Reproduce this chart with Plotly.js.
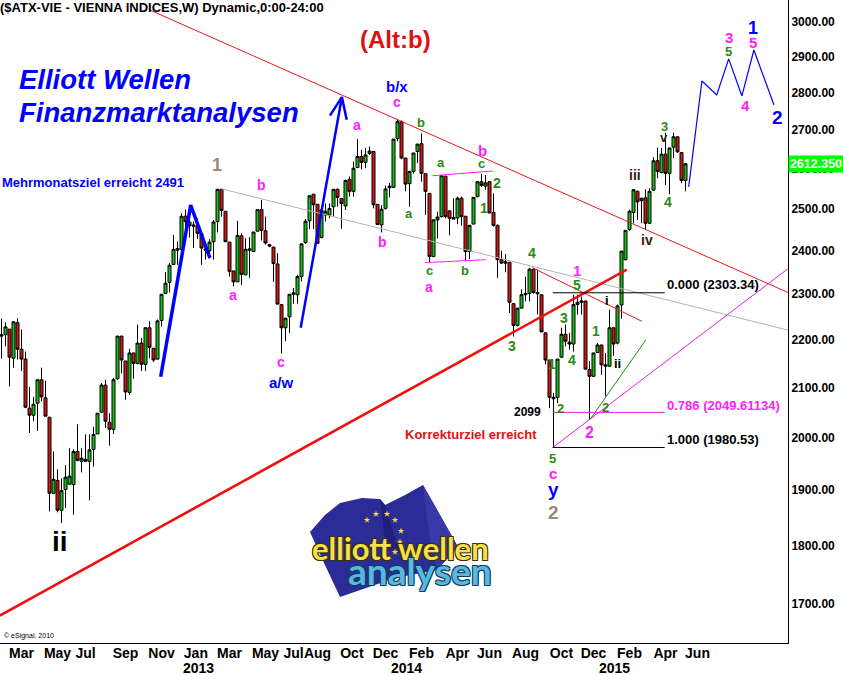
<!DOCTYPE html>
<html><head><meta charset="utf-8">
<script src="https://cdn.plot.ly/plotly-3.0.1.min.js"></script>
<style>html,body{margin:0;padding:0;background:#fff}#c{width:843px;height:675px}</style>
</head><body><div id="c"></div>
<script>
const opens=[2211,2211,2223,2161,2237,2180,2159,2058,2044,2068,
2116,2079,2040,1894,1918,1863,1901,1911,1910,1973,
1954,1958,1954,1977,2007,2050,2105,2030,2016,2118,
2208,2155,2090,2172,2150,2193,2148,2226,2182,2159,
2242,2302,2327,2368,2401,2403,2482,2468,2461,2459,
2440,2404,2400,2421,2469,2548,2494,2420,2353,2328,
2435,2344,2401,2398,2446,2498,2447,2414,2408,2369,
2277,2226,2250,2300,2299,2340,2419,2471,2536,2511,
2431,2485,2485,2505,2548,2525,2507,2573,2543,2603,
2631,2616,2639,2644,2511,2461,2501,2552,2553,2678,
2722,2627,2562,2593,2644,2664,2587,2538,2386,2473,
2481,2581,2495,2479,2478,2526,2482,2398,2463,2530,
2567,2556,2567,2491,2460,2379,2374,2373,2279,2231,
2269,2299,2302,2357,2304,2299,2215,2157,2080,2080,
2163,2212,2195,2191,2277,2282,2285,2137,2123,2173,
2189,2147,2144,2226,2193,2276,2379,2450,2491,2543,
2520,2527,2465,2546,2620,2590,2637,2588,2655,2682,2641,2570];
const highs=[2246,2238,2223,2239,2247,2222,2175,2101,2081,2116,
2141,2114,2040,1973,1939,1922,1947,1979,1977,2026,
1979,2006,2006,2021,2048,2109,2116,2048,2120,2208,
2208,2155,2181,2172,2233,2204,2226,2240,2182,2244,
2300,2350,2371,2437,2421,2489,2498,2489,2469,2477,
2441,2420,2427,2473,2548,2548,2494,2420,2353,2471,
2441,2429,2432,2444,2498,2522,2481,2416,2410,2394,
2277,2247,2300,2314,2344,2416,2475,2532,2536,2511,
2497,2513,2513,2548,2550,2525,2572,2580,2618,2676,
2648,2653,2657,2644,2511,2509,2557,2564,2676,2729,
2725,2627,2593,2640,2663,2691,2587,2538,2475,2493,
2584,2581,2495,2526,2530,2530,2482,2461,2528,2568,
2587,2584,2568,2538,2462,2400,2392,2373,2279,2269,
2311,2340,2360,2360,2356,2299,2216,2157,2089,2159,
2226,2233,2215,2299,2299,2295,2285,2155,2172,2193,
2189,2172,2266,2226,2277,2399,2448,2498,2548,2545,
2527,2548,2551,2629,2654,2653,2693,2653,2693,2682,2641,2614];
const lows=[2160,2186,2102,2141,2158,2134,2058,2009,2032,2013,
2072,2042,1861,1894,1859,1840,1867,1910,1855,1954,
1933,1954,1881,1944,2007,2048,2019,1984,2007,2116,
2129,2075,2085,2118,2148,2134,2134,2161,2153,2158,
2229,2301,2304,2367,2367,2379,2433,2431,2406,2427,
2367,2379,2382,2379,2443,2481,2421,2340,2318,2328,
2321,2344,2337,2398,2446,2424,2414,2408,2328,2278,
2171,2197,2215,2279,2279,2329,2416,2451,2451,2416,
2429,2469,2477,2481,2505,2452,2497,2530,2530,2601,
2598,2601,2635,2501,2461,2443,2498,2528,2553,2670,
2624,2543,2505,2587,2614,2567,2485,2371,2386,2429,
2479,2477,2436,2475,2463,2459,2375,2380,2463,2528,
2554,2547,2489,2457,2337,2369,2350,2258,2207,2229,
2269,2284,2284,2301,2255,2217,2148,2058,1980.53,2068,
2161,2186,2179,2175,2255,2255,2137,2035,2123,2172,
2126,2082,2144,2166,2190,2246,2377,2447,2465,2473,
2465,2451,2463,2544,2576,2588,2559,2536,2627,2640,2563,2543];
const closes=[2208,2228,2163,2239,2180,2159,2060,2044,2066,2116,
2081,2042,1894,1920,1863,1899,1924,1926,1973,1956,
1960,1954,1976,2006,2048,2105,2032,2016,2116,2208,
2157,2091,2172,2150,2193,2148,2226,2184,2157,2241,
2300,2325,2366,2403,2405,2482,2469,2459,2458,2441,
2406,2401,2420,2468,2548,2496,2421,2352,2328,2436,
2345,2403,2404,2444,2498,2448,2418,2411,2370,2278,
2226,2247,2300,2303,2340,2416,2470,2532,2510,2417,
2497,2494,2501,2548,2528,2513,2570,2543,2601,2631,
2616,2635,2645,2510,2462,2499,2549,2556,2676,2722,
2627,2561,2593,2640,2663,2588,2543,2386,2473,2480,
2582,2481,2477,2475,2526,2481,2398,2460,2528,2567,
2558,2564,2490,2460,2379,2371,2371,2282,2231,2269,
2299,2302,2357,2304,2301,2217,2157,2080,2077,2159,
2212,2197,2191,2277,2282,2285,2138,2123,2172,2189,
2147,2144,2226,2191,2274,2399,2448,2494,2547,2517,
2526,2465,2543,2620,2593,2637,2588,2653,2682,2643,2570,2612.35];
const weeks=opens.map((_,i)=>i);

const priceTicks=[1700,1800,1900,2000,2100,2200,2300,2400,2500,2600,2700,2800,2900,3000];
const monthLabels=["Mar","May","Jul","Sep","Nov","Jan","Mar","May","Jul","Aug","Oct","Dec","Feb","Apr","Jun","Aug","Oct","Dec","Feb","Apr","Jun"];
const monthWeeks=[5,14,21,31,40,48.6,57,66,73,79,87.6,96,105,114,122,131,140,148,157,166,174];
const yearLabels=["2013","2014","2015"];
const yearWeeks=[49.3,101.3,153.3];

const upperX=[37.1,196.6], upperY=[3035,2304];
const supportX=[-0.42,156.3], supportY=[1681,2356];
const shortRedX=[132.8,160.1], shortRedY=[2360,2240];
const greyX=[55.1,196.6], greyY=[2549,2221];
const magentaX=[137.8,196.6], magentaY=[1980.5,2358];
const greenX=[147.1,161.1], greenY=[2035,2200];
const fibX=[137.8,165.8];
const fib0=[2303.34,2303.34], fib786=[2049.61,2049.61], fib1=[1980.53,1980.53];
const pinkTopX=[107.8,122.8], pinkTopY=[2582,2594];
const pinkLowX=[105.8,121.1], pinkLowY=[2372,2379];
const arrow1X=[39.8,47.3,52.1], arrow1Y=[2122,2509,2383];
const arrow2X=[74.8,85.1,null,82.1,85.1,86.3], arrow2Y=[2226,2788,null,2738,2788,2727];
const forecastX=[171.8,175.1,178.8,181.8,185.1,188.1,193.1];
const forecastY=[2554,2832,2794,2894,2791,2919,2767];

function line(x,y,color,width){return {type:'scatter',mode:'lines',x,y,line:{color,width},hoverinfo:'skip',showlegend:false,connectgaps:false};}
const data=[
 line(greyX,greyY,'#b8b0b0',1),
 line(upperX,upperY,'#e81818',1),
 line(magentaX,magentaY,'#e020e0',1),
 line(greenX,greenY,'#109010',1),
 line(shortRedX,shortRedY,'#e81818',1),
 line(fibX,fib786,'#e020e0',1),
 {type:'candlestick',x:weeks,open:opens,high:highs,low:lows,close:closes,whiskerwidth:0,
  increasing:{line:{color:'#000',width:1},fillcolor:'#18c018'},
  decreasing:{line:{color:'#000',width:1},fillcolor:'#d01818'},hoverinfo:'skip',showlegend:false},
 line(supportX,supportY,'#f01010',2.6),
 line(fibX,fib0,'#000',1),
 line(fibX,fib1,'#000',1),
 line(pinkTopX,pinkTopY,'#ff20ff',1),
 line(pinkLowX,pinkLowY,'#ff20ff',1),
 line(arrow1X,arrow1Y,'#0000ff',3.5),
 line(arrow2X,arrow2Y,'#0000ff',2.5),
 line(forecastX,forecastY,'#0000ff',1.2)
];

const W=788,H=643;
const BASE='"Liberation Sans",Arial,sans-serif';
function txt(text,px,py,color,size,opt){opt=opt||{};return Object.assign({text,x:px/W,y:1-py/H,xref:'paper',yref:'paper',showarrow:false,
 xanchor:'center',yanchor:'middle',font:{family:BASE,size,color,weight:opt.plain?'normal':'bold',style:opt.italic?'italic':'normal',shadow:opt.shadow||'none'}},opt.anchor?{xanchor:opt.anchor}:{});}
const M='#ff20ff',G='#2a8a10',B='#0000ff',K='#000000',T='#9a8a78';
const annotations=[
 txt('($ATX-VIE - VIENNA INDICES,W) Dynamic,0:00-24:00',-2,8,K,13,{anchor:'left'}),
 txt('(Alt:b)',395,40,'#e01010',24),
 txt('Elliott Wellen',17,79,B,27.5,{anchor:'left',italic:true}),
 txt('Finanzmarktanalysen',17,113,B,27.5,{anchor:'left',italic:true}),
 txt('Mehrmonatsziel erreicht 2491',0,183,B,13,{anchor:'left'}),
 txt('1',217,165,T,18),txt('b',261,185,M,14),txt('a',233,295,M,14),txt('c',281,362,M,14),
 txt('a/w',281,382,B,15),txt('b/x',397,86,B,15),txt('c',397,102,M,14),txt('a',357,125,M,14),
 txt('b',421,122,G,13),txt('a',409,213,G,13),txt('a',441,162,G,13),txt('c',481,163,G,13),
 txt('b',482,150,M,15),txt('2',497,183,G,14),txt('1',484,208,G,14),txt('b',382,242,M,14),
 txt('c',429,270,G,13),txt('b',465,270,G,13),txt('a',429,287,M,14),
 txt('4',532,253,G,14),txt('3',512,346,G,14),txt('1',577,270,M,15),txt('5',577,285,G,14),
 txt('3',564,318,G,14),txt('i',607,300,K,13),txt('4',572,360,G,14),txt('1',596,331,G,14),
 txt('1',552,364,G,14),txt('2',560,408,G,13),txt('ii',617,363,K,13),txt('2',605,407,G,13),
 txt('2',589,432,M,16),txt('2099',527,412,K,12),
 txt('Korrekturziel erreicht',403,434,'#e01010',13,{anchor:'left'}),
 txt('5',552,458,G,13),txt('c',553,473,M,15),txt('y',553,489,B,19),txt('2',553,512,T,19),
 txt('iii',635,175,'#332211',14),txt('iv',647,240,'#332211',14),txt('v',664,137,'#332211',13),
 txt('3',664,127,G,13),txt('4',668,202,G,14),
 txt('0.000 (2303.34)',665,285,K,13,{anchor:'left'}),
 txt('0.786 (2049.61134)',665,405,M,13,{anchor:'left'}),
 txt('1.000 (1980.53)',665,440,K,13,{anchor:'left'}),
 txt('1',753,28,B,18),txt('5',753,42,M,15),txt('3',729,38,M,15),txt('5',728,52,G,13),
 txt('4',745,105,M,15),txt('2',777,117,B,19),
 txt('ii',60,541,K,28),
 txt('© eSignal, 2010',2,636,K,7,{anchor:'left',plain:true})
];
// current-price tag
annotations.push(Object.assign(txt('2612.350',816,164,'#ffffff',12.5),{bgcolor:'#00ff00',width:54,height:16,borderpad:0}));
// year row under the month labels
yearLabels.forEach((t,i)=>annotations.push({text:t,x:yearWeeks[i],xref:'x',y:1-668/H,yref:'paper',showarrow:false,xanchor:'center',yanchor:'middle',
 font:{family:'"Liberation Sans Narrow",'+BASE,size:14,color:K,weight:'bold'}}));
// logo wording
const logoFont='"Lato","Noto Sans",sans-serif';
const wl=txt('elliott wellen',400,548,'#f4e04a',31,{shadow:'1px 1px 0 #403000,-1px -1px 0 #403000,1px -1px 0 #403000,-1px 1px 0 #403000'});wl.font.family=logoFont;
const al=txt('analysen',420,570,'#5ab8e0',37,{shadow:'1px 1px 0 #0a4060,-1px -1px 0 #0a4060,1px -1px 0 #0a4060,-1px 1px 0 #0a4060'});al.font.family=logoFont;
annotations.push(wl,al);

function poly(pts,fill){const d=pts.map((p,i)=>(i?'L':'M')+(p[0]/W).toFixed(4)+' '+(1-p[1]/H).toFixed(4)).join(' ')+' Z';
 return {type:'path',xref:'paper',yref:'paper',path:d,fillcolor:fill,line:{width:0},layer:'above'};}
function star(cx,cy){const pts=[];for(let k=0;k<10;k++){const r=k%2?1.3:3.4,t=-Math.PI/2+k*Math.PI/5;pts.push([cx+r*Math.cos(t),cy+r*Math.sin(t)]);}return poly(pts,'#ffe020');}
const starSpots=[[367,520],[376,514],[387,514],[395,520],[401,531],[400,542],[395,552]];
const shapes=[
 poly([[310,532],[325,515],[340,503],[362,498],[380,499],[385,505],[405,495],[423,485],[440,515],[458,547],[437,570],[395,578],[340,597],[325,565]],'#2c2c98'),
 poly([[380,499],[385,505],[398,548],[386,552]],'#20207a'),
 poly([[423,485],[440,515],[458,547],[437,570],[430,540]],'#3838a8')
].concat(starSpots.map(s=>star(s[0],s[1])));

const layout={width:843,height:675,autosize:false,margin:{l:0,r:55,t:0,b:32,pad:0},
 paper_bgcolor:'#fff',plot_bgcolor:'#fff',showlegend:false,boxgap:0.25,boxgroupgap:0,dragmode:false,
 xaxis:{type:'linear',range:[-0.375,196.625],rangeslider:{visible:false},showgrid:false,zeroline:false,showline:true,linecolor:'#000',linewidth:1,
  tickmode:'array',tickvals:monthWeeks,ticktext:monthLabels,ticks:'',tickangle:0,ticklabelstandoff:-3,
  tickfont:{family:'"Liberation Sans Narrow",'+BASE,size:14,color:'#000',weight:'bold'}},
 yaxis:{type:'log',side:'right',range:[Math.log10(1636.6),Math.log10(3065)],showgrid:false,zeroline:false,showline:true,linecolor:'#000',linewidth:1,
  tickmode:'array',tickvals:priceTicks,ticktext:priceTicks.map(v=>v.toFixed(2)),ticks:'',
  tickfont:{family:BASE,size:12,color:'#000',weight:'bold'}},
 annotations,shapes};
Plotly.newPlot('c',data,layout,{staticPlot:true,displayModeBar:false});
</script></body></html>
